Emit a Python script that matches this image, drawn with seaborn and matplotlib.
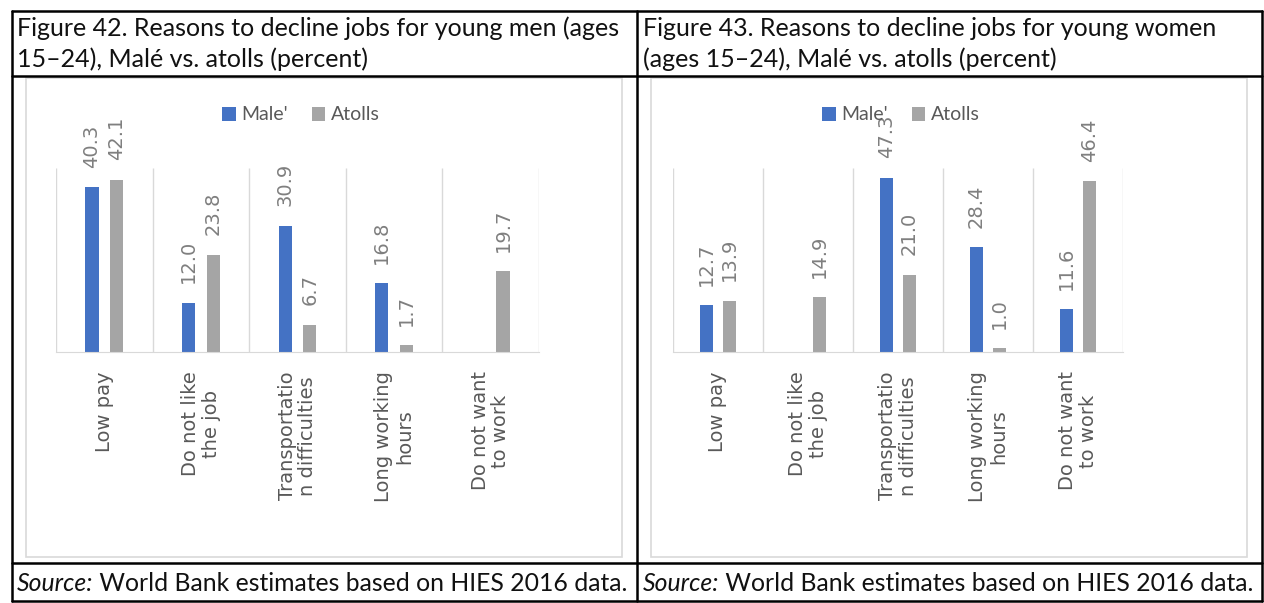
import matplotlib.pyplot as plt
import seaborn as sns
import pandas as pd
import numpy as np
from matplotlib.lines import Line2D
from matplotlib.patches import Rectangle

plt.switch_backend('Agg')

# Data
categories = ['Low pay', 'Do not like\nthe job', 'Transportatio\nn difficulties',
              'Long working\nhours', 'Do not want\nto work']
series = ["Male'", 'Atolls']
men_male = [40.3, 12.0, 30.9, 16.8, np.nan]
men_atolls = [42.1, 23.8, 6.7, 1.7, 19.7]
women_male = [12.7, np.nan, 47.3, 28.4, 11.6]
women_atolls = [13.9, 14.9, 21.0, 1.0, 46.4]

titles = [
    ['Figure 42. Reasons to decline jobs for young men (ages',
     '15\u201324), Mal\u00e9 vs. atolls (percent)'],
    ['Figure 43. Reasons to decline jobs for young women',
     '(ages 15\u201324), Mal\u00e9 vs. atolls (percent)'],
]
source_lead = 'Source:'
source_rest = ' World Bank estimates based on HIES 2016 data.'

sns.set_style('white')
plt.rcParams['font.family'] = ['Lato', 'DejaVu Sans']

W, H = 1264, 603
colors = {"Male'": '#4472C4', 'Atolls': '#A5A5A5'}
grid_col = '#D9D9D9'


def fx(x):
    return x / W


def fy(y):
    return 1 - y / H


fig = plt.figure(figsize=(W / 100, H / 100), dpi=100)


def make_df(male, atolls):
    rows = []
    for cat, m, a in zip(categories, male, atolls):
        rows.append({'reason': cat, 'group': series[0], 'value': m})
        rows.append({'reason': cat, 'group': series[1], 'value': a})
    return pd.DataFrame(rows)


def draw_panel(rect, df, ymax, legend_x):
    ax = fig.add_axes(rect)
    sns.barplot(data=df, x='reason', y='value', hue='group', order=categories,
                hue_order=series, palette=colors, saturation=1, width=0.51,
                gap=0.47, linewidth=0, errorbar=None, ax=ax)
    ax.set_xlim(-0.5, len(categories) - 0.5)
    ax.set_ylim(0, ymax)
    ax.vlines(np.arange(len(categories) + 1) - 0.5, 0, ymax, color=grid_col, lw=1, zorder=0)
    for c in ax.containers:
        labels = ['' if (np.isnan(v) or v == 0) else f'{v:.1f}' for v in c.datavalues]
        ax.bar_label(c, labels=labels, rotation=90, padding=14, color='#7F7F7F',
                     fontsize=14, family=['DejaVu Sans'])
    for s in ['top', 'left', 'right']:
        ax.spines[s].set_visible(False)
    ax.spines['bottom'].set_color(grid_col)
    ax.set_yticks([])
    ax.set_xlabel('')
    ax.set_ylabel('')
    ax.tick_params(axis='x', length=0, pad=14, labelsize=14, labelcolor='#595959')
    for t in ax.get_xticklabels():
        t.set_rotation(90)
        t.set_va('top')
        t.set_ha('center')
        t.set_multialignment('center')
        t.set_family(['DejaVu Sans'])
        t.set_linespacing(1.1)
    sns.move_legend(ax, 'center', bbox_to_anchor=(fx(legend_x), fy(115)),
                    bbox_transform=fig.transFigure, ncol=2, frameon=False, title=None,
                    fontsize=14, handlelength=0.7, handleheight=0.7,
                    handletextpad=0.3, columnspacing=1.2, labelcolor='#595959')
    return ax


ax1 = draw_panel([fx(56), fy(352), fx(539) - fx(56), fy(168) - fy(352)],
                 make_df(men_male, men_atolls), 45, 301)
ax2 = draw_panel([fx(673), fy(352), fx(1123) - fx(673), fy(168) - fy(352)],
                 make_df(women_male, women_atolls), 50, 901)

# chart frames
for x0, x1 in [(26, 622), (651, 1247)]:
    fig.add_artist(Rectangle((fx(x0), fy(557)), fx(x1) - fx(x0), fy(78) - fy(557),
                             transform=fig.transFigure, fill=False, ec=grid_col, lw=1.2))

# table lines
lw = 1.8
for y in [11, 76, 563, 601]:
    fig.add_artist(Line2D([fx(12), fx(1262)], [fy(y), fy(y)], color='black', lw=lw))
for x in [12, 637, 1262]:
    fig.add_artist(Line2D([fx(x), fx(x)], [fy(11), fy(601)], color='black', lw=lw))

# titles and source
renderer = fig.canvas.get_renderer()
for x0, lines in zip([17, 643], titles):
    fig.text(fx(x0), fy(36), lines[0], fontsize=18, va='baseline', color='#111111')
    fig.text(fx(x0), fy(67), lines[1], fontsize=18, va='baseline', color='#111111')
    lead = fig.text(fx(x0), fy(591), source_lead, fontsize=17.8, style='italic',
                    va='baseline', color='#111111')
    bb = lead.get_window_extent(renderer)
    fig.text(bb.x1 / W, fy(591), source_rest, fontsize=17.8, va='baseline', color='#111111')

fig.savefig('out.png', dpi=100)
